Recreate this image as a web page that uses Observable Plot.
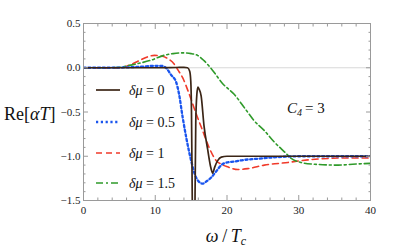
<!DOCTYPE html>
<html>
<head>
<meta charset="utf-8">
<script src="https://cdn.jsdelivr.net/npm/d3@7"></script>
<script src="https://cdn.jsdelivr.net/npm/@observablehq/plot@0.6"></script>
<style>
  html, body { margin: 0; padding: 0; background: #fff; }
  #chart { position: relative; width: 415px; height: 250px; }
</style>
</head>
<body>
<div id="chart"></div>
<script>
// ---- data ----
const labels = ["δμ = 0", "δμ = 0.5", "δμ = 1", "δμ = 1.5"];
const muValues = ["0", "0.5", "1", "1.5"];

const x0 = [0, 5, 10, 13, 14, 14.5, 14.8, 14.95, 15.05, 15.15, 15.3, 15.45, 15.55, 15.65, 15.8, 15.95, 16.1, 16.4, 16.8, 17.3, 17.75, 18.0, 18.3, 18.7, 19.2, 20, 25, 30, 35, 40];
const y0 = [0, 0, 0, 0.003, 0.004, 0.0, -0.04, -0.15, -0.5, -1.4, -2.6, -2.6, -1.4, -0.6, -0.3, -0.22, -0.24, -0.32, -0.66, -0.92, -1.13, -1.19, -1.12, -1.05, -1.01, -1.0, -1.0, -1.0, -1.0, -1.0];

const x05 = [0, 3, 6, 8, 10, 11, 11.6, 12.2, 12.9, 13.3, 13.8, 14.3, 15.0, 15.5, 16.0, 16.6, 17.2, 17.8, 18.5, 19.2, 20.0, 21.0, 22.5, 24, 27, 30, 35, 40];
const y05 = [0, 0, 0.004, 0.012, 0.022, 0.02, -0.01, -0.08, -0.16, -0.29, -0.55, -0.78, -1.05, -1.2, -1.28, -1.31, -1.28, -1.24, -1.17, -1.1, -1.07, -1.06, -1.04, -1.03, -1.01, -1.0, -1.0, -1.0];

const x1 = [0, 3, 5, 6.1, 7, 8, 9, 9.9, 11, 11.8, 12.6, 13.2, 13.8, 14.7, 15.7, 16.6, 17.5, 18.5, 19.2, 20.1, 21.5, 22.9, 25.2, 28.5, 30.3, 33, 36, 40];
const y1 = [0, -0.004, 0.0, 0.02, 0.05, 0.09, 0.125, 0.14, 0.13, 0.1, 0.045, -0.03, -0.11, -0.29, -0.52, -0.71, -0.9, -1.05, -1.09, -1.12, -1.15, -1.14, -1.1, -1.07, -1.05, -1.03, -1.02, -1.02];

const x15 = [0, 3, 5, 6.6, 8, 9.4, 11.2, 12.5, 13.8, 15, 15.9, 16.8, 18.0, 19.4, 21.0, 22.5, 23.8, 25.2, 26.6, 28.0, 28.9, 30.3, 32.2, 35.5, 37.5, 40];
const y15 = [0, 0, 0.005, 0.03, 0.055, 0.085, 0.14, 0.16, 0.168, 0.16, 0.14, 0.08, -0.03, -0.18, -0.3, -0.46, -0.6, -0.71, -0.84, -0.95, -1.02, -1.07, -1.09, -1.1, -1.09, -1.08];

const xMajor = [0, 10, 20, 30, 40];
const xMinor = [2, 4, 6, 8, 12, 14, 16, 18, 22, 24, 26, 28, 32, 34, 36, 38];
const yMajor = [0.5, 0.0, -0.5, -1.0, -1.5];
const yMinor = [0.4, 0.3, 0.2, 0.1, -0.1, -0.2, -0.3, -0.4, -0.6, -0.7, -0.8, -0.9, -1.1, -1.2, -1.3, -1.4];

const colors = ["#3b2516", "#1a55ee", "#f03a2a", "#2f9a2a"];
const dashes = [null, "2.2,2.6", "6,4", "7,3,2,3"];
const widths = [1.7, 2.3, 1.6, 1.6];

const seriesX = [x0, x05, x1, x15];
const seriesY = [y0, y05, y1, y15];
const rows = seriesX.flatMap((xs, s) => xs.map((x, i) => ({s, x, y: seriesY[s][i]})));

const FONT = "'Liberation Serif', 'Times New Roman', serif";
const fmt = d => d === 0 ? "0" : String(d);
const fmtY = d => (d < 0 ? "\u2212" : "") + Math.abs(d).toFixed(1);

const lineMarks = [0, 1, 2, 3].map(s => Plot.line(rows.filter(r => r.s === s), {
  x: "x", y: "y", stroke: colors[s], strokeWidth: widths[s],
  strokeDasharray: dashes[s], curve: "monotone-x", clip: true
}));

const plot = Plot.plot({
  width: 415, height: 250,
  marginLeft: 83, marginRight: 45, marginTop: 23, marginBottom: 50,
  x: {domain: [0, 40]},
  y: {domain: [-1.5, 0.5]},
  style: {fontSize: "11px", color: "#222"},
  marks: [
    Plot.ruleY([0], {stroke: "#d8d8d8", strokeWidth: 1}),
    ...[2, 3, 1, 0].map(s => lineMarks[s]),
    Plot.frame({stroke: "#9a9a9a", strokeWidth: 1}),
    // inward ticks on all sides
    Plot.axisX({ticks: xMajor, tickSize: -5, text: null, stroke: "#9a9a9a", label: null}),
    Plot.axisX({ticks: xMinor, tickSize: -2.5, text: null, stroke: "#9a9a9a", label: null}),
    Plot.axisX({anchor: "top", ticks: xMajor, tickSize: -5, text: null, stroke: "#9a9a9a", label: null}),
    Plot.axisX({anchor: "top", ticks: xMinor, tickSize: -2.5, text: null, stroke: "#9a9a9a", label: null}),
    Plot.axisY({ticks: yMajor, tickSize: -5, text: null, stroke: "#9a9a9a", label: null}),
    Plot.axisY({ticks: yMinor, tickSize: -2.5, text: null, stroke: "#9a9a9a", label: null}),
    Plot.axisY({anchor: "right", ticks: yMajor, tickSize: -5, text: null, stroke: "#9a9a9a", label: null}),
    Plot.axisY({anchor: "right", ticks: yMinor, tickSize: -2.5, text: null, stroke: "#9a9a9a", label: null}),
    // labels
    Plot.axisX({ticks: xMajor, tickSize: 0, tickPadding: 6, tickFormat: fmt, label: null, fontSize: 11, fill: "#222"}),
    Plot.axisY({ticks: yMajor, tickSize: 0, tickPadding: 3, tickFormat: fmtY, label: null, fontSize: 11, fill: "#222"})
  ]
});

document.getElementById("chart").appendChild(plot);

// ---- annotations: axis titles, legend, C4 label ----
const svg = d3.select(plot);
function txt(x, y, size, anchor) {
  return svg.append("text").attr("x", x).attr("y", y)
    .attr("text-anchor", anchor || "start")
    .style("font-size", size + "px").attr("fill", "#111");
}

// y-axis title Re[αT]
const yt = txt(4, 120, 18);
yt.append("tspan").text("Re[");
yt.append("tspan").attr("font-style", "italic").text("αT");
yt.append("tspan").text("]");

// x-axis title ω / Tc
const xt = txt(226, 242, 18, "middle");
xt.append("tspan").attr("font-style", "italic").text("ω");
xt.append("tspan").text("\u2009/\u2009");
xt.append("tspan").attr("font-style", "italic").text("T");
xt.append("tspan").attr("font-style", "italic").style("font-size", "12px").attr("dy", 3).text("c");

// C4 = 3 annotation
const ct = txt(287, 113, 15);
ct.append("tspan").attr("font-style", "italic").text("C");
ct.append("tspan").attr("font-style", "italic").style("font-size", "10px").attr("dy", 3).text("4");
ct.append("tspan").attr("dy", -3).text("\u2009= 3");

// legend
const legY = [90, 122, 153, 183];
labels.forEach((lab, i) => {
  svg.append("line").attr("x1", 96).attr("x2", 120).attr("y1", legY[i]).attr("y2", legY[i])
    .attr("stroke", colors[i]).attr("stroke-width", widths[i])
    .attr("stroke-dasharray", dashes[i]);
  const t = txt(129, legY[i] + 5, 14);
  t.append("tspan").attr("font-style", "italic").text("δμ");
  t.append("tspan").text(" = " + muValues[i]);
});

// serif font for every text element (tick labels included)
svg.style("font-family", FONT);
svg.selectAll("g").attr("font-family", null).style("font-family", FONT);
svg.selectAll("text").style("font-family", FONT);
</script>
</body>
</html>
